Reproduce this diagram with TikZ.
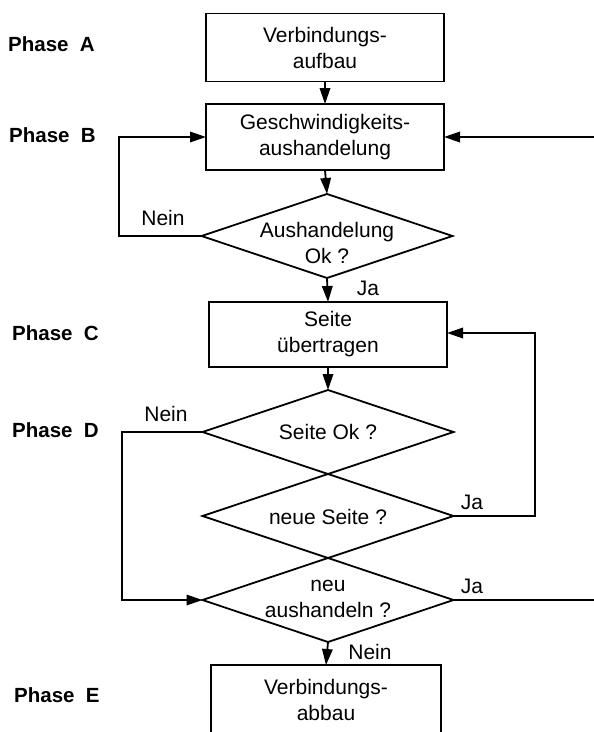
\documentclass[tikz,border=0pt]{standalone}
\usepackage{fontspec}
\setmainfont{Liberation Sans}
\usetikzlibrary{shapes.geometric,arrows.meta}

\begin{document}
\begin{tikzpicture}[x=1pt,y=-1pt,
  every node/.style={font=\fontsize{21}{26}\selectfont},
  stepbox/.style={draw,line width=1.8pt,rectangle,inner sep=0pt,outer sep=0pt,
    minimum width=238pt,align=center},
  decision/.style={draw,line width=1.8pt,diamond,inner sep=0pt,outer sep=0pt,
    minimum width=251pt,minimum height=84pt},
  dtext/.style={align=center,inner sep=0pt},
  phase/.style={anchor=west,inner sep=0pt,font=\fontsize{20.5}{24}\selectfont\bfseries},
  lbl/.style={inner sep=0pt},
  flow/.style={line width=1.8pt},
  arr/.style={flow,-{Triangle[length=16pt,width=10.5pt]}}
]
\useasboundingbox (0,0) rectangle (594,732);

% phase captions
\node[phase] (pa) at (8,44)  {Phase\ \ A};
\node[phase] (pb) at (9,135) {Phase\ \ B};
\node[phase] (pc) at (12,333) {Phase\ \ C};
\node[phase] (pd) at (12,430) {Phase\ \ D};
\node[phase] (pe) at (14,695) {Phase\ \ E};

% process steps
\node[stepbox,minimum height=68pt] (a) at (325,47.5) {Verbindungs-\\aufbau};
\node[stepbox,minimum height=66pt] (b) at (325,137) {Geschwindigkeits-\\aushandelung};
\node[stepbox,minimum height=65pt] (c) at (328,334.5) {Seite\\übertragen};
\node[stepbox,minimum height=72pt,minimum width=230pt] (e) at (326,701) {};
\node[dtext] (te) at (326,700) {Verbindungs-\\abbau};

% decisions
\node[decision] (d1) at (327,236) {};
\node[dtext] (t1) at (327,243) {Aushandelung\\Ok ?};
\node[decision] (d2) at (328,432) {};
\node[dtext] (t2) at (328,432) {Seite Ok ?};
\node[decision] (d3) at (328,516) {};
\node[dtext] (t3) at (328,517) {neue Seite ?};
\node[decision] (d4) at (328,600) {};
\node[dtext] (t4) at (328,599) {neu\\aushandeln ?};

% loop corners and open ends
\coordinate (l1) at (119,236);
\coordinate (l2) at (122,432);
\coordinate (r1) at (535,516);
\coordinate (in1) at (594,137);
\coordinate (out1) at (594,600);

% connectors
\draw[arr] (a.south) -- (b.north);
\draw[arr] (b.south) -- (d1.north);
\draw[arr] (d1.west) -- (l1) |- (b.west);
\draw[arr] (in1) -- (b.east);
\draw[arr] (d1.south) -- (c.north);
\draw[arr] (c.south) -- (d2.north);
\draw[arr] (d3.east) -- (r1) |- ([yshift=1.5pt]c.east);
\draw[arr] (d2.west) -- (l2) |- (d4.west);
\draw[flow] (d4.east) -- (out1);
\draw[arr] (d4.south) -- (e.north);

% branch labels
\node[lbl] (n1) at (163,218) {Nein};
\node[lbl] (j1) at (368,288) {Ja};
\node[lbl] (n2) at (166,414) {Nein};
\node[lbl] (j2) at (472,502) {Ja};
\node[lbl] (j3) at (472,586) {Ja};
\node[lbl] (n3) at (370,652) {Nein};
\end{tikzpicture}
\end{document}
